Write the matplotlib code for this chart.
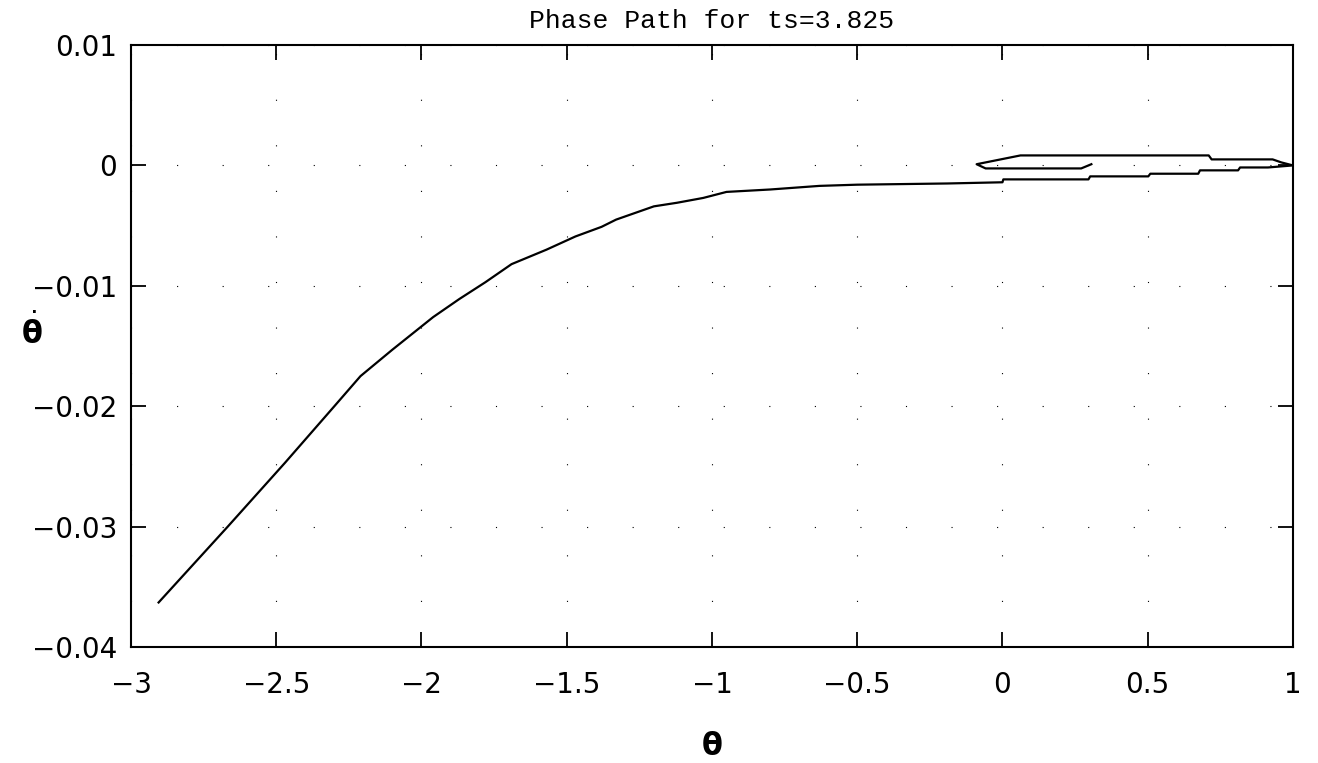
"""
Phase path plot for ts=3.825
"""

import numpy as np
import matplotlib.pyplot as plt

# main branch of the path (theta, theta_dot)
theta_main = [-2.905, -2.667, -2.47, -2.30, -2.21, -2.10, -1.96, -1.87, -1.78, -1.69,
              -1.57, -1.47, -1.38, -1.33, -1.20, -1.12, -1.03, -0.95, -0.80, -0.63,
              -0.50, -0.19, 0.0]
omega_main = [-0.0363, -0.0300, -0.0247, -0.0200, -0.0175, -0.0153, -0.0126, -0.0111,
              -0.0097, -0.0082, -0.0070, -0.0059, -0.0051, -0.0045, -0.0034, -0.0031,
              -0.0027, -0.0022, -0.0020, -0.0017, -0.0016, -0.0015, -0.0014]

# stepped part going out to theta=1
theta_out = [0.0, 0.003, 0.296, 0.302, 0.502, 0.509, 0.674, 0.680, 0.811, 0.818, 0.914, 1.0]
omega_out = [-0.0014, -0.00116, -0.00116, -0.00091, -0.00091, -0.00069, -0.00069,
             -0.00041, -0.00041, -0.00017, -0.00017, 0.0]

# small loop coming back
theta_back = [1.0, 0.96, 0.93, 0.89, 0.72, 0.71, 0.062, -0.058, -0.089, -0.058, 0.271, 0.306]
omega_back = [0.0, 0.00025, 0.0005, 0.0005, 0.0005, 0.00083, 0.00083, 0.00025, 0.0001,
              -0.00025, -0.00025, 0.0001]

xticks = [-3, -2.5, -2, -1.5, -1, -0.5, 0, 0.5, 1]
yticks = [0.01, 0, -0.01, -0.02, -0.03, -0.04]

theta = np.concatenate([theta_main, theta_out, theta_back])
omega = np.concatenate([omega_main, omega_out, omega_back])

plt.rcParams['mathtext.fontset'] = 'dejavusans'

fig = plt.figure(figsize=(13.18, 7.63), dpi=100)
ax = fig.add_axes([0.0994, 0.152, 0.8816, 0.789])

ax.plot(theta, omega, color="black", lw=1.6)

ax.set_xlim(-3, 1)
ax.set_ylim(-0.04, 0.01)
ax.set_xticks(xticks)
ax.set_yticks(yticks)
ax.set_xticklabels([("%g" % t).replace("-", "\u2212") for t in xticks])
ax.set_yticklabels([("%g" % t).replace("-", "\u2212") for t in yticks])
ax.tick_params(direction="in", length=11, width=1.3, labelsize=20,
               top=True, right=True)
ax.tick_params(axis="x", pad=17)
ax.tick_params(axis="y", pad=10)
for s in ax.spines.values():
    s.set_linewidth(1.5)

ax.grid(True, color="black", lw=0.8, linestyle=(0, (1, 40)))

ax.set_title("Phase Path for ts=3.825", fontsize=19, family="Liberation Mono", pad=12)
ax.set_xlabel(r"$\mathbf{\theta}$", fontsize=22, labelpad=24)
ax.set_ylabel(r"$\dot{\mathbf{\theta}}$", fontsize=22, rotation=0, va="center")
ax.yaxis.set_label_coords(-0.085, 0.525)

fig.savefig("out.png")
